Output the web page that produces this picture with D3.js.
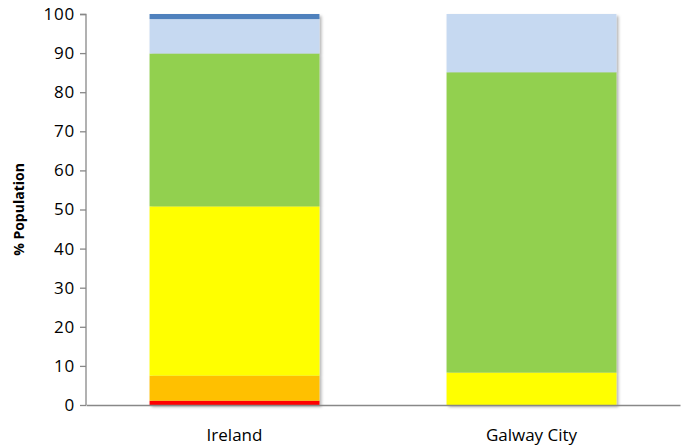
<!DOCTYPE html>
<html>
<head>
<meta charset="utf-8">
<script src="https://cdn.jsdelivr.net/npm/d3@7"></script>
<style>
  body { margin: 0; background: #fff; }
  text { font-family: "Open Sans", "Liberation Sans", sans-serif; }
</style>
</head>
<body>
<div id="chart"></div>
<script>
// data
var categories = ["Ireland", "Galway City"];
var seriesNames = ["red", "orange", "yellow", "green", "lightblue", "blue"];
var seriesColors = ["#ff0000", "#ffc000", "#ffff00", "#92d050", "#c6d9f1", "#4f81bd"];
var redVals = [1.1, 0];
var orangeVals = [6.4, 0];
var yellowVals = [43.3, 8.3];
var greenVals = [39.1, 76.8];
var lightBlueVals = [8.8, 14.9];
var blueVals = [1.3, 0];
var yTicks = [0, 10, 20, 30, 40, 50, 60, 70, 80, 90, 100];

var svgWidth = 681, svgHeight = 447;
var margin = {top: 14, right: 1, bottom: 42, left: 86};
var width = svgWidth - margin.left - margin.right;
var height = svgHeight - margin.top - margin.bottom;

var svg = d3.select("#chart").append("svg")
  .attr("width", svgWidth)
  .attr("height", svgHeight);

// soft shadow like the original
var defs = svg.append("defs");
var filter = defs.append("filter").attr("id", "shadow")
  .attr("x", "-10%").attr("y", "-10%").attr("width", "130%").attr("height", "130%");
filter.append("feDropShadow")
  .attr("dx", 2).attr("dy", 2).attr("stdDeviation", 1.6)
  .attr("flood-color", "#000").attr("flood-opacity", 0.3);

var chartGroup = svg.append("g")
  .attr("transform", `translate(${margin.left}, ${margin.top})`);

var table = categories.map(function(c, i) {
  return {cat: c, red: redVals[i], orange: orangeVals[i], yellow: yellowVals[i],
          green: greenVals[i], lightblue: lightBlueVals[i], blue: blueVals[i]};
});

var stack = d3.stack().keys(seriesNames);
var layers = stack(table);

var xScale = d3.scaleBand()
  .domain(categories)
  .range([0, width])
  .paddingInner(0.428)
  .paddingOuter(0.214);

var yScale = d3.scaleLinear()
  .domain([0, 100])
  .range([height, 0]);

// bars (each category drawn as one group with a shadow)
var barGroups = chartGroup.selectAll(".bar")
  .data(categories)
  .enter()
  .append("g")
  .attr("class", "bar")
  .attr("filter", "url(#shadow)");

barGroups.each(function(cat, i) {
  var g = d3.select(this);
  layers.forEach(function(layer, k) {
    var d = layer[i];
    if (d[1] - d[0] <= 0) return;
    g.append("rect")
      .attr("x", xScale(cat))
      .attr("width", xScale.bandwidth())
      .attr("y", yScale(d[1]))
      .attr("height", yScale(d[0]) - yScale(d[1]))
      .attr("fill", seriesColors[k]);
  });
});

// axes
var leftAxis = d3.axisLeft(yScale).tickValues(yTicks).tickSize(6).tickPadding(5);
var yAxis = chartGroup.append("g").call(leftAxis);
yAxis.select(".domain").attr("stroke", "#888").attr("stroke-width", 1.3)
  .attr("d", `M-6,0.5H0V${height}`);
yAxis.selectAll(".tick line").attr("stroke", "#888").attr("stroke-width", 1.3);
yAxis.selectAll(".tick text")
  .attr("font-size", "17px")
  .attr("letter-spacing", "0.8px")
  .attr("fill", "#000");

var bottomAxis = d3.axisBottom(xScale).tickSize(0).tickPadding(24);
var xAxis = chartGroup.append("g")
  .attr("transform", `translate(0, ${height})`)
  .call(bottomAxis);
xAxis.select(".domain").attr("stroke", "#888").attr("stroke-width", 1.3);
xAxis.selectAll(".tick text").attr("font-size", "17px").attr("fill", "#000");

// y axis title
chartGroup.append("text")
  .attr("transform", "rotate(-90)")
  .attr("x", 0 - (height / 2))
  .attr("y", 0 - margin.left + 24)
  .attr("text-anchor", "middle")
  .attr("font-size", "14px")
  .attr("font-weight", "bold")
  .text("% Population");
</script>
</body>
</html>
